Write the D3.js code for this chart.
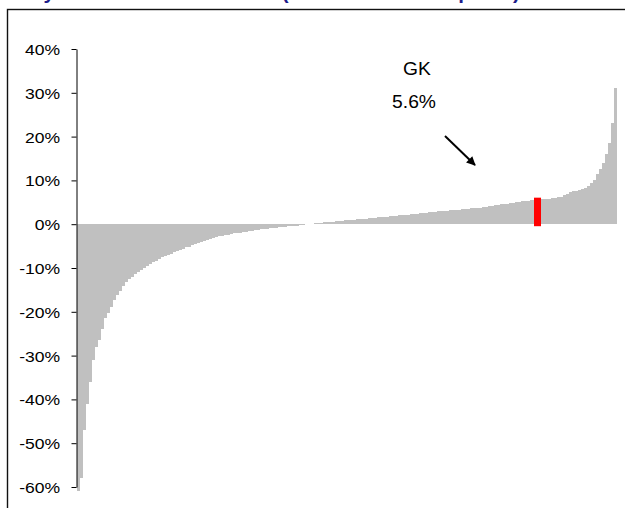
<!DOCTYPE html>
<html>
<head>
<meta charset="utf-8">
<script src="https://cdn.jsdelivr.net/npm/d3@7"></script>
<style>
  body { margin: 0; background: #fff; }
  svg { display: block; }
</style>
</head>
<body>
<div id="chart"></div>
<script>
// Sorted returns, one bar per stock (in %) left to right
const returns = [
  -61, -58, -47, -41, -36, -31, -28, -26.5, -24, -21.5,
  -20.2, -19, -17.2, -16.2, -15.3, -14.2, -13.3, -12.6, -12, -11.3,
  -10.9, -10.4, -10, -9.5, -9.1, -8.6, -8.3, -8, -7.6, -7.3,
  -7, -6.7, -6.4, -6.2, -5.9, -5.6, -5.3, -5.1, -4.8, -4.5,
  -4.3, -4, -3.8, -3.6, -3.3, -3.1, -3, -2.8, -2.7, -2.5,
  -2.4, -2.2, -2.1, -2, -1.9, -1.8, -1.7, -1.6, -1.5, -1.4,
  -1.3, -1.2, -1.1, -1, -0.9, -0.85, -0.8, -0.7, -0.65, -0.6,
  -0.5, -0.45, -0.4, -0.3, -0.25, -0.15, -0.05, 0.05, 0.15, 0.2,
  0.3, 0.35, 0.4, 0.5, 0.55, 0.6, 0.7, 0.75, 0.8, 0.9,
  0.95, 1.0, 1.05, 1.1, 1.15, 1.2, 1.3, 1.35, 1.4, 1.5,
  1.55, 1.6, 1.7, 1.75, 1.8, 1.9, 1.95, 2.0, 2.05, 2.1,
  2.2, 2.25, 2.3, 2.4, 2.45, 2.5, 2.6, 2.7, 2.75, 2.8,
  2.9, 2.95, 3.0, 3.1, 3.15, 3.2, 3.3, 3.35, 3.4, 3.5,
  3.55, 3.6, 3.7, 3.75, 3.8, 3.9, 4.0, 4.1, 4.2, 4.3,
  4.4, 4.5, 4.6, 4.7, 4.8, 4.9, 5.0, 5.1, 5.2, 5.3,
  5.35, 5.45, 5.5, 5.6, 5.65, 5.7, 5.8, 5.85, 5.9, 6.0,
  6.1, 6.3, 6.6, 6.9, 7.3, 7.5, 7.6, 7.8, 8.0, 8.2,
  8.7, 9.3, 10.2, 11.5, 12.5, 14, 16, 18.5, 23, 31
];
const yTicks = [-60, -50, -40, -30, -20, -10, 0, 10, 20, 30, 40];
const gkIndex = 153;
const gkName = "GK";
const title = "Daily Excess Stock Returns (relative to sector peers)";

const width = 625, height = 508;
const svg = d3.select("#chart").append("svg")
    .attr("width", width)
    .attr("height", height)
    .attr("font-family", "'Liberation Sans', Arial, sans-serif");

// title sits mostly above the visible area, only the descenders show
svg.append("text")
    .attr("x", 6)
    .attr("y", -1)
    .attr("fill", "#1c1c8a")
    .attr("font-weight", "bold")
    .attr("font-size", 20.5)
    .text(title);

// chart frame (runs off the right and bottom edges)
svg.append("rect")
    .attr("x", 7.5)
    .attr("y", 9.5)
    .attr("width", 640)
    .attr("height", 520)
    .attr("fill", "none")
    .attr("stroke", "#111")
    .attr("stroke-width", 1.4);

const x = d3.scaleBand()
    .domain(d3.range(returns.length))
    .range([77, 617])
    .padding(0);

const y = d3.scaleLinear()
    .domain([-60, 40])
    .range([487, 49]);

// bars
svg.append("g")
    .attr("shape-rendering", "crispEdges")
    .selectAll("rect")
    .data(returns)
    .enter().append("rect")
    .attr("x", (d, i) => x(i))
    .attr("width", x.bandwidth())
    .attr("y", d => y(Math.max(0, d)))
    .attr("height", d => Math.abs(y(d) - y(0)))
    .attr("fill", "#c0c0c0");

// highlighted company
svg.append("rect")
    .attr("x", x(gkIndex))
    .attr("width", x.bandwidth())
    .attr("y", y(returns[gkIndex]))
    .attr("height", y(0) - y(returns[gkIndex]))
    .attr("fill", "#ff0000")
    .attr("stroke", "#ff0000")
    .attr("stroke-width", 4);

// y axis
const yAxis = svg.append("g")
    .attr("transform", "translate(76.5,0)")
    .call(d3.axisLeft(y)
        .tickValues(yTicks)
        .tickSize(5)
        .tickSizeOuter(0)
        .tickPadding(9)
        .tickFormat(d => d + "%"));

yAxis.select(".domain").attr("stroke", "#000");
yAxis.selectAll(".tick line").attr("stroke", "#000");
yAxis.selectAll(".tick text")
    .attr("font-size", 15)
    .attr("font-family", "'Liberation Sans', Arial, sans-serif")
    .attr("fill", "#000")
    .attr("transform", "scale(1.17,1)")
    .attr("dy", "0.36em");

// annotation
const ann = svg.append("g")
    .attr("font-size", 18)
    .attr("fill", "#000")
    .attr("text-anchor", "middle");

ann.append("text")
    .attr("transform", "translate(417,75) scale(1.07,1)")
    .text(gkName);

ann.append("text")
    .attr("transform", "translate(414,108) scale(1.07,1)")
    .text(d3.format(".1f")(returns[gkIndex]) + "%");

svg.append("defs").append("marker")
    .attr("id", "arrow")
    .attr("viewBox", "0 0 10 10")
    .attr("refX", 9)
    .attr("refY", 5)
    .attr("markerWidth", 5)
    .attr("markerHeight", 4.5)
    .attr("orient", "auto")
    .append("path")
    .attr("d", "M0,0 L10,5 L0,10 z")
    .attr("fill", "#000");

svg.append("line")
    .attr("x1", 445)
    .attr("y1", 136)
    .attr("x2", 475)
    .attr("y2", 165)
    .attr("stroke", "#000")
    .attr("stroke-width", 2)
    .attr("marker-end", "url(#arrow)");
</script>
</body>
</html>
